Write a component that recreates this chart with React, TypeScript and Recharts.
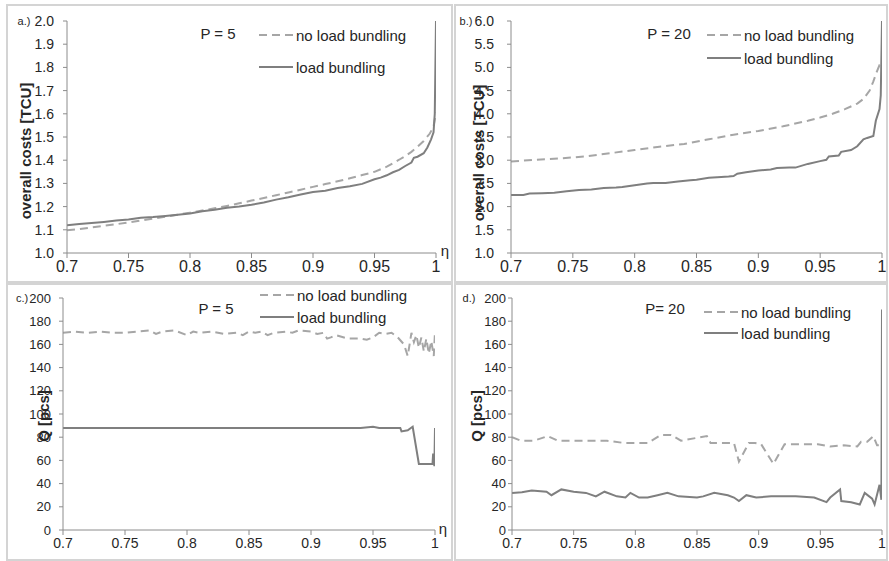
import React from "react";
import { LineChart, Line, XAxis, YAxis } from "recharts";

const FONT = "'Liberation Sans', Arial, sans-serif";
const DASH_COLOR = "#a6a6a6";
const SOLID_COLOR = "#7f7f7f";
const AXIS_COLOR = "#8c8c8c";
const TEXT_COLOR = "#262626";

const xTicks = [0.7, 0.75, 0.8, 0.85, 0.9, 0.95, 1];
const costTicksA = [1.0, 1.1, 1.2, 1.3, 1.4, 1.5, 1.6, 1.7, 1.8, 1.9, 2.0];
const costTicksB = [1.0, 1.5, 2.0, 2.5, 3.0, 3.5, 4.0, 4.5, 5.0, 5.5, 6.0];
const qTicks = [0, 20, 40, 60, 80, 100, 120, 140, 160, 180, 200];

// Panel a (P = 5, overall costs)
const aNoEta = [0.70, 0.71, 0.72, 0.73, 0.74, 0.75, 0.76, 0.77, 0.78, 0.79, 0.80, 0.81, 0.82, 0.83, 0.84, 0.85, 0.86, 0.87, 0.88, 0.89, 0.90, 0.91, 0.92, 0.93, 0.94, 0.95, 0.96, 0.97, 0.975, 0.98, 0.985, 0.99, 0.995, 0.998, 1.0];
const aNoCost = [1.098, 1.103, 1.110, 1.117, 1.124, 1.132, 1.140, 1.148, 1.156, 1.165, 1.174, 1.183, 1.193, 1.203, 1.214, 1.226, 1.237, 1.249, 1.261, 1.273, 1.285, 1.297, 1.309, 1.322, 1.336, 1.350, 1.372, 1.402, 1.418, 1.436, 1.458, 1.483, 1.515, 1.545, 1.605];
const aLbEta = [0.70, 0.71, 0.72, 0.73, 0.74, 0.75, 0.76, 0.77, 0.78, 0.79, 0.80, 0.81, 0.82, 0.83, 0.84, 0.85, 0.86, 0.87, 0.88, 0.89, 0.90, 0.91, 0.92, 0.93, 0.94, 0.95, 0.955, 0.96, 0.965, 0.97, 0.975, 0.98, 0.982, 0.985, 0.99, 0.993, 0.996, 0.998, 0.999, 1.0];
const aLbCost = [1.120, 1.125, 1.129, 1.134, 1.140, 1.144, 1.152, 1.155, 1.160, 1.165, 1.170, 1.180, 1.186, 1.195, 1.200, 1.208, 1.218, 1.230, 1.240, 1.252, 1.263, 1.268, 1.280, 1.288, 1.298, 1.318, 1.325, 1.335, 1.348, 1.358, 1.375, 1.390, 1.410, 1.415, 1.430, 1.455, 1.490, 1.520, 1.600, 2.000];

// Panel b (P = 20, overall costs)
const bNoEta = [0.70, 0.72, 0.74, 0.76, 0.78, 0.80, 0.82, 0.84, 0.86, 0.88, 0.90, 0.92, 0.94, 0.95, 0.96, 0.97, 0.98, 0.985, 0.99, 0.993, 0.996, 0.998, 1.0];
const bNoCost = [2.97, 3.01, 3.04, 3.08, 3.15, 3.22, 3.29, 3.35, 3.45, 3.55, 3.63, 3.73, 3.85, 3.92, 4.00, 4.10, 4.22, 4.32, 4.50, 4.70, 4.92, 5.05, 5.05];
const bLbEta = [0.70, 0.71, 0.715, 0.725, 0.735, 0.745, 0.755, 0.765, 0.775, 0.785, 0.79, 0.80, 0.81, 0.815, 0.825, 0.835, 0.845, 0.85, 0.86, 0.87, 0.876, 0.88, 0.883, 0.89, 0.90, 0.91, 0.915, 0.925, 0.93, 0.94, 0.95, 0.955, 0.957, 0.965, 0.967, 0.975, 0.98, 0.985, 0.988, 0.993, 0.995, 0.998, 0.999, 1.0];
const bLbCost = [2.25, 2.25, 2.28, 2.29, 2.30, 2.33, 2.36, 2.37, 2.40, 2.41, 2.42, 2.46, 2.50, 2.51, 2.51, 2.54, 2.57, 2.58, 2.62, 2.64, 2.65, 2.66, 2.71, 2.74, 2.78, 2.80, 2.83, 2.84, 2.84, 2.92, 2.98, 3.01, 3.08, 3.10, 3.18, 3.22, 3.30, 3.45, 3.48, 3.52, 3.85, 4.10, 4.40, 6.00];

// Panel c (P = 5, Q)
const cNoEta = [0.70, 0.71, 0.72, 0.73, 0.74, 0.75, 0.76, 0.77, 0.775, 0.78, 0.79, 0.80, 0.805, 0.81, 0.82, 0.83, 0.84, 0.845, 0.85, 0.855, 0.86, 0.865, 0.87, 0.88, 0.885, 0.89, 0.90, 0.905, 0.91, 0.913, 0.916, 0.92, 0.93, 0.94, 0.945, 0.95, 0.955, 0.96, 0.965, 0.97, 0.975, 0.978, 0.981, 0.983, 0.985, 0.987, 0.989, 0.991, 0.993, 0.995, 0.997, 0.999, 1.0];
const cNoQ = [170, 171, 170, 171, 170, 170, 171, 172, 169, 171, 172, 168, 171, 170, 171, 169, 170, 168, 171, 170, 171, 168, 170, 171, 170, 172, 171, 169, 170, 165, 166, 168, 165, 165, 164, 166, 170, 169, 170, 166, 160, 150, 170, 162, 168, 157, 166, 154, 165, 152, 163, 150, 171];
const cLbEta = [0.70, 0.94, 0.95, 0.955, 0.972, 0.973, 0.978, 0.982, 0.987, 0.997, 0.998, 0.9985, 0.9995, 1.0];
const cLbQ = [88, 88, 89, 88, 88, 85, 86, 89, 57, 57, 57, 66, 55, 88];

// Panel d (P = 20, Q)
const dNoEta = [0.70, 0.707, 0.718, 0.729, 0.737, 0.75, 0.777, 0.791, 0.81, 0.821, 0.829, 0.837, 0.858, 0.861, 0.88, 0.884, 0.892, 0.897, 0.902, 0.912, 0.921, 0.948, 0.958, 0.969, 0.98, 0.983, 0.988, 0.993, 0.996, 1.0];
const dNoQ = [80, 77, 77, 81, 77, 77, 77, 75, 75, 82, 82, 77, 81, 75, 75, 59, 75, 75, 74, 57, 74, 74, 72, 73, 72, 76, 76, 81, 73, 73];
const dLbEta = [0.70, 0.708, 0.716, 0.728, 0.732, 0.74, 0.75, 0.76, 0.768, 0.775, 0.785, 0.792, 0.796, 0.803, 0.81, 0.818, 0.826, 0.835, 0.85, 0.855, 0.864, 0.875, 0.88, 0.884, 0.89, 0.898, 0.91, 0.93, 0.945, 0.955, 0.958, 0.966, 0.967, 0.975, 0.982, 0.986, 0.992, 0.994, 0.998, 0.9995, 1.0];
const dLbQ = [32, 32.5, 34, 33, 30, 35, 33, 32, 29, 33, 29, 28, 32, 28, 28, 30, 32, 29, 28, 29, 32, 30, 28, 25, 30, 28, 29, 29, 28, 24, 28, 35, 25, 24, 22, 32, 27, 22, 39, 26, 190];

const zip = (xs: number[], ys: number[]) => xs.map((x, i) => ({ x, y: ys[i] }));

type PanelCfg = {
  id: string;
  noData: { x: number; y: number }[];
  lbData: { x: number; y: number }[];
  margin: { top: number; right: number; bottom: number; left: number };
  yTicks: number[];
  yDomain: [number, number];
  yFmt: (v: number) => string;
  xFont: number;
  yFont: number;
  yGap: number;
};

const panels: PanelCfg[] = [
  { id: "a", noData: zip(aNoEta, aNoCost), lbData: zip(aLbEta, aLbCost), margin: { top: 21, right: 453, bottom: 278, left: 17 }, yTicks: costTicksA, yDomain: [1, 2], yFmt: (v) => v.toFixed(1), xFont: 16, yFont: 14, yGap: 9 },
  { id: "b", noData: zip(bNoEta, bNoCost), lbData: zip(bLbEta, bLbCost), margin: { top: 21, right: 7, bottom: 278, left: 461 }, yTicks: costTicksB, yDomain: [1, 6], yFmt: (v) => v.toFixed(1), xFont: 16, yFont: 14, yGap: 13 },
  { id: "c", noData: zip(cNoEta, cNoQ), lbData: zip(cLbEta, cLbQ), margin: { top: 298, right: 454, bottom: 1, left: 13 }, yTicks: qTicks, yDomain: [0, 200], yFmt: (v) => String(v), xFont: 14, yFont: 13, yGap: 8 },
  { id: "d", noData: zip(dNoEta, dNoQ), lbData: zip(dLbEta, dLbQ), margin: { top: 298, right: 7, bottom: 1, left: 462 }, yTicks: qTicks, yDomain: [0, 200], yFmt: (v) => String(v), xFont: 14, yFont: 13, yGap: 2 },
];

const Txt = ({ x, y, size, children, bold, rotate }: any) => (
  <div
    style={{
      position: "absolute",
      left: x,
      top: y,
      fontFamily: FONT,
      fontSize: size,
      fontWeight: bold ? "bold" : "normal",
      color: TEXT_COLOR,
      whiteSpace: "nowrap",
      lineHeight: 1,
      transform: `translate(-50%, -50%)${rotate ? " rotate(-90deg)" : ""}`,
      transformOrigin: "50% 50%",
    }}
  >
    {children}
  </div>
);

const LegendRow = ({ x, y, dashed, label }: any) => (
  <div style={{ position: "absolute", left: x, top: y - 10, height: 20, display: "flex", alignItems: "center" }}>
    <svg width={36} height={20} style={{ display: "block" }}>
      <line x1={0} y1={10} x2={34} y2={10} stroke={dashed ? DASH_COLOR : SOLID_COLOR} strokeWidth={2} strokeDasharray={dashed ? "8 5" : undefined} />
    </svg>
    <span style={{ fontFamily: FONT, fontSize: 15, color: TEXT_COLOR, whiteSpace: "nowrap", marginLeft: 1 }}>{label}</span>
  </div>
);

const Box = ({ left, top, width, height }: any) => (
  <div style={{ position: "absolute", left, top, width, height, border: "2px solid #d4d4d4", boxSizing: "border-box" }} />
);

export default function App() {
  return (
    <div style={{ position: "absolute", left: 0, top: 0, width: 889, height: 561, background: "#ffffff", overflow: "hidden" }}>
      <Box left={6} top={4} width={447} height={279} />
      <Box left={454} top={4} width={434} height={279} />
      <Box left={6} top={283} width={447} height={278} />
      <Box left={454} top={283} width={434} height={278} />

      {panels.map((p) => (
        <div key={p.id} style={{ position: "absolute", left: 0, top: 0 }}>
          <LineChart width={889} height={561} margin={p.margin}>
            <XAxis
              type="number"
              dataKey="x"
              domain={[0.7, 1]}
              ticks={xTicks}
              interval={0}
              allowDataOverflow
              height={30}
              tickSize={5}
              tickMargin={3}
              stroke={AXIS_COLOR}
              tick={{ fontSize: p.xFont, fill: TEXT_COLOR, fontFamily: FONT }}
              tickFormatter={(v: number) => String(Math.round(v * 100) / 100)}
            />
            <YAxis
              type="number"
              domain={p.yDomain}
              ticks={p.yTicks}
              interval={0}
              allowDataOverflow
              width={50}
              tickSize={4}
              tickMargin={p.yGap}
              stroke={AXIS_COLOR}
              tick={{ fontSize: p.yFont, fill: TEXT_COLOR, fontFamily: FONT }}
              tickFormatter={p.yFmt}
            />
            <Line data={p.noData} type="linear" dataKey="y" stroke={DASH_COLOR} strokeWidth={2} strokeDasharray="8 5" dot={false} isAnimationActive={false} />
            <Line data={p.lbData} type="linear" dataKey="y" stroke={SOLID_COLOR} strokeWidth={2} dot={false} isAnimationActive={false} />
          </LineChart>
        </div>
      ))}

      {/* panel a annotations */}
      <Txt x={24} y={21} size={11}>a.)</Txt>
      <Txt x={25} y={151} size={15} bold rotate>overall costs [TCU]</Txt>
      <Txt x={218} y={33} size={15}>P = 5</Txt>
      <LegendRow x={259} y={35} dashed label="no load bundling" />
      <LegendRow x={259} y={67} label="load bundling" />
      <Txt x={445} y={250} size={15}>η</Txt>

      {/* panel b annotations */}
      <Txt x={466} y={21} size={11}>b.)</Txt>
      <Txt x={478} y={153} size={15} bold rotate>overall costs [TCU]</Txt>
      <Txt x={669} y={33} size={15}>P = 20</Txt>
      <LegendRow x={707} y={35} dashed label="no load bundling" />
      <LegendRow x={707} y={58} label="load bundling" />

      {/* panel c annotations */}
      <Txt x={22} y={298} size={11}>c.)</Txt>
      <Txt x={43} y={416} size={15} bold rotate>Q [pcs]</Txt>
      <Txt x={216} y={308} size={15}>P = 5</Txt>
      <LegendRow x={260} y={295} dashed label="no load bundling" />
      <LegendRow x={260} y={317} label="load bundling" />
      <Txt x={443} y={528} size={15}>η</Txt>

      {/* panel d annotations */}
      <Txt x={469} y={298} size={11}>d.)</Txt>
      <Txt x={476} y={416} size={15} bold rotate>Q [pcs]</Txt>
      <Txt x={665} y={308} size={15}>P= 20</Txt>
      <LegendRow x={704} y={312} dashed label="no load bundling" />
      <LegendRow x={704} y={333} label="load bundling" />
    </div>
  );
}
